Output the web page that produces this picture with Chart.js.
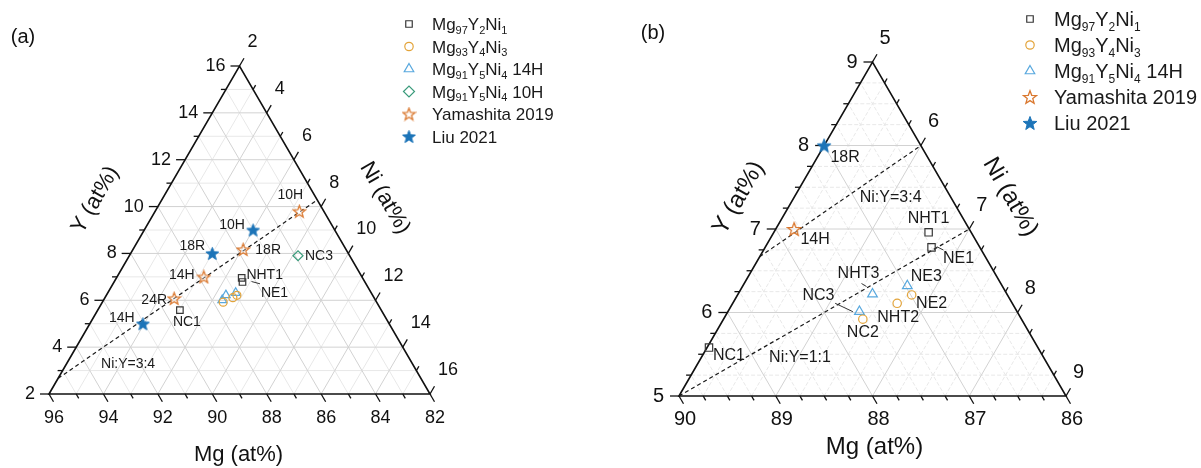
<!DOCTYPE html>
<html>
<head>
<meta charset="utf-8">
<script src="https://cdn.jsdelivr.net/npm/chart.js@4.4.1/dist/chart.umd.min.js"></script>
<style>
  html, body { margin: 0; padding: 0; background: #fff; }
  #wrap { position: relative; width: 1201px; height: 468px; overflow: hidden; }
  #wrap canvas { position: absolute; top: 0; }
</style>
</head>
<body>
<div id="wrap">
  <canvas id="ca" width="600" height="468" style="left:0"></canvas>
  <canvas id="cb" width="601" height="468" style="left:600px"></canvas>
</div>
<script>
// ---- compositions (at.%), Mg is the balance: Mg = 100 - Y - Ni ----
const mg97Names = ['NC1', 'NHT1', 'NE1'];
const mg97Y     = [5.58, 6.96, 6.78];
const mg97Ni    = [5.02, 6.60, 6.72];

const mg93Names = ['NC2', 'NHT2', 'NE2'];
const mg93Y     = [5.92, 6.11, 6.21];
const mg93Ni    = [6.44, 6.70, 6.80];

const mg91hNames = ['NC3', 'NHT3', 'NE3'];
const mg91hY     = [6.01, 6.22, 6.32];
const mg91hNi    = [6.36, 6.39, 6.70];

const mg91tNames = ['NC3'];
const mg91tY     = [7.90];
const mg91tNi    = [8.20];

const yamaNames = ['24R', '14H', '18R', '10H'];
const yamaY     = [6.08, 7.00, 8.17, 9.80];
const yamaNi    = [4.56, 5.19, 6.05, 7.30];

const liuNames = ['14H', '18R', '10H'];
const liuY     = [5.00, 8.00, 9.00];
const liuNi    = [3.95, 5.00, 6.00];

// Ni:Y guide lines
const ratioNames = ['Ni:Y=3:4', 'Ni:Y=1:1'];
const ratioNi    = [3, 1];
const ratioY     = [4, 1];

// tick labels
const mgTicksA = [96, 94, 92, 90, 88, 86, 84, 82];
const yTicksA  = [2, 4, 6, 8, 10, 12, 14, 16];
const niTicksA = [2, 4, 6, 8, 10, 12, 14, 16];
const mgTicksB = [90, 89, 88, 87, 86];
const yTicksB  = [5, 6, 7, 8, 9];
const niTicksB = [5, 6, 7, 8, 9];

const axisTitles = ['Mg (at%)', 'Y (at%)', 'Ni (at%)'];
const legendTexts = {
  mg97: 'Mg_{97}Y_{2}Ni_{1}',
  mg93: 'Mg_{93}Y_{4}Ni_{3}',
  mg91h: 'Mg_{91}Y_{5}Ni_{4} 14H',
  mg91t: 'Mg_{91}Y_{5}Ni_{4} 10H',
  yama: 'Yamashita 2019',
  liu: 'Liu 2021'
};

// ---------------------------------------------------------------
const SQ = Math.sqrt(3) / 2;
const FONT = '"Liberation Sans", Arial, Helvetica, sans-serif';

function makeStar(size, stroke, fill, lw) {
  const c = document.createElement('canvas');
  c.width = c.height = size;
  const g = c.getContext('2d');
  const R = size / 2 - lw * 0.8, r = R * 0.42;
  const cx = size / 2, cy = size / 2 + R * 0.095;
  g.beginPath();
  for (let i = 0; i < 10; i++) {
    const a = -Math.PI / 2 + i * Math.PI / 5;
    const rr = i % 2 ? r : R;
    g.lineTo(cx + rr * Math.cos(a), cy + rr * Math.sin(a));
  }
  g.closePath();
  g.fillStyle = fill; g.fill();
  g.lineWidth = lw; g.strokeStyle = stroke; g.lineJoin = 'miter'; g.stroke();
  return c;
}

const YAMA_COL = '#DA782F', LIU_COL = '#1C74B8';

const seriesDefs = {
  mg97:  { names: mg97Names,  y: mg97Y,  ni: mg97Ni,  style: 'rect',     color: '#363636' },
  mg93:  { names: mg93Names,  y: mg93Y,  ni: mg93Ni,  style: 'circle',   color: '#E3A43A' },
  mg91h: { names: mg91hNames, y: mg91hY, ni: mg91hNi, style: 'triangle', color: '#58A8DE' },
  mg91t: { names: mg91tNames, y: mg91tY, ni: mg91tNi, style: 'rectRot',  color: '#3A9B7B' },
  yama:  { names: yamaNames,  y: yamaY,  ni: yamaNi,  style: 'star',     color: YAMA_COL },
  liu:   { names: liuNames,   y: liuY,   ni: liuNi,   style: 'star',     color: LIU_COL }
};

function tern(y, ni, R) {
  const b = (y - R.y0) / R.span, c = (ni - R.ni0) / R.span;
  return { x: c + b / 2, y: b * SQ };
}
function inside(y, ni, R) {
  const b = (y - R.y0) / R.span, c = (ni - R.ni0) / R.span, e = 1e-6;
  return b >= -e && c >= -e && b + c <= 1 + e;
}
// end points of a Ni:Y = n:y line clipped to the window
function ratioSegment(n, yv, R) {
  const r = n / yv, T = R.y0 + R.ni0 + R.span, out = [];
  const cand = [[R.ni0 / r, R.ni0], [R.y0, r * R.y0], [T / (1 + r), T * r / (1 + r)]];
  cand.forEach(p => { if (inside(p[0], p[1], R)) out.push(p); });
  out.sort((a, b) => a[0] - b[0]);
  return [out[0], out[out.length - 1]];
}

function drawMarker(ctx, style, x, y, r, color, img, lw) {
  ctx.save();
  if (style === 'star') { ctx.drawImage(img, x - img.width / 2, y - img.height / 2); ctx.restore(); return; }
  ctx.strokeStyle = color; ctx.lineWidth = lw;
  ctx.beginPath();
  if (style === 'rect') {
    const s = Math.SQRT1_2 * r; ctx.rect(x - s, y - s, 2 * s, 2 * s);
  } else if (style === 'circle') {
    ctx.arc(x, y, r, 0, Math.PI * 2);
  } else if (style === 'triangle') {
    let a = 0;
    for (let i = 0; i < 3; i++) { ctx.lineTo(x + Math.sin(a) * r, y - Math.cos(a) * r); a += 2 * Math.PI / 3; }
    ctx.closePath();
  } else if (style === 'rectRot') {
    ctx.moveTo(x - r, y); ctx.lineTo(x, y - r); ctx.lineTo(x + r, y); ctx.lineTo(x, y + r); ctx.closePath();
  }
  ctx.stroke();
  ctx.restore();
}

function drawRich(ctx, text, x, y, size) {
  // text with _{...} subscripts, left aligned, vertically centred on y
  const parts = text.split(/(_\{[^}]*\})/).filter(s => s.length);
  let cx = x;
  ctx.textBaseline = 'alphabetic'; ctx.textAlign = 'left';
  const base = y + size * 0.36;
  parts.forEach(p => {
    if (p.startsWith('_{')) {
      const t = p.slice(2, -1);
      ctx.font = Math.round(size * 0.62) + 'px ' + FONT;
      ctx.fillText(t, cx, base + size * 0.22);
      cx += ctx.measureText(t).width;
    } else {
      ctx.font = size + 'px ' + FONT;
      ctx.fillText(p, cx, base);
      cx += ctx.measureText(p).width;
    }
  });
}

function makePanel(P) {
  const R = P.range;
  const T = R.y0 + R.ni0 + R.span;
  const stars = {
    yama: makeStar(P.starSize, YAMA_COL, 'rgba(255,255,255,0.35)', 1.3),
    liu: makeStar(P.starSize, LIU_COL, LIU_COL, 1.0)
  };

  const datasets = [];
  P.series.forEach(key => {
    const s = seriesDefs[key];
    const pts = [];
    s.y.forEach((yv, i) => { if (inside(yv, s.ni[i], R)) pts.push(tern(yv, s.ni[i], R)); });
    datasets.push({
      label: key, data: pts, clip: false,
      pointStyle: s.style === 'star' ? stars[key] : s.style,
      pointRadius: s.style === 'star' ? 1 : P.sizes[s.style],
      pointHoverRadius: s.style === 'star' ? 1 : P.sizes[s.style],
      pointBorderWidth: 1.2,
      pointBorderColor: s.color,
      pointBackgroundColor: 'rgba(255,255,255,0)',
      showLine: false
    });
  });
  // guide lines go last so they sit underneath the markers
  P.ratios.forEach(idx => {
    const seg = ratioSegment(ratioNi[idx], ratioY[idx], R);
    datasets.push({
      label: ratioNames[idx], data: seg.map(p => tern(p[0], p[1], R)), clip: false,
      showLine: true, pointRadius: 0, borderColor: '#1a1a1a', borderWidth: 1.2,
      borderDash: [4, 3], fill: false
    });
  });

  const plugin = {
    id: 'ternary' + P.id,
    beforeDatasetsDraw(chart) {
      const ctx = chart.ctx, sx = chart.scales.x, sy = chart.scales.y;
      const px = (yv, ni) => { const t = tern(yv, ni, R); return [sx.getPixelForValue(t.x), sy.getPixelForValue(t.y)]; };
      const n = Math.round(R.span / P.minor);
      ctx.save();
      // grid: minor first, major on top
      ['minor', 'major'].forEach(pass => {
        for (let k = 1; k < n; k++) {
          const d = k * P.minor;
          const major = Math.abs(d / P.major - Math.round(d / P.major)) < 1e-6;
          if ((pass === 'major') !== major) continue;
          ctx.strokeStyle = major ? P.gridMajor : P.gridMinor;
          ctx.setLineDash(major ? [] : P.minorDash);
          ctx.lineWidth = 1;
          const segs = [
            [px(R.y0 + d, R.ni0), px(R.y0 + d, R.ni0 + R.span - d)],   // constant Y
            [px(R.y0, R.ni0 + d), px(R.y0 + R.span - d, R.ni0 + d)],   // constant Ni
            [px(R.y0, R.ni0 + d), px(R.y0 + d, R.ni0)]                 // constant Mg
          ];
          segs.forEach(s => { ctx.beginPath(); ctx.moveTo(s[0][0], s[0][1]); ctx.lineTo(s[1][0], s[1][1]); ctx.stroke(); });
        }
      });
      ctx.setLineDash([]);
      // frame
      const A = px(R.y0, R.ni0), B = px(R.y0 + R.span, R.ni0), C = px(R.y0, R.ni0 + R.span);
      ctx.strokeStyle = '#111'; ctx.lineWidth = 1.6; ctx.lineJoin = 'miter';
      ctx.beginPath(); ctx.moveTo(A[0], A[1]); ctx.lineTo(B[0], B[1]); ctx.lineTo(C[0], C[1]); ctx.closePath(); ctx.stroke();

      // ticks
      ctx.lineWidth = 1.3;
      const tick = (p, dx, dy, len) => { ctx.beginPath(); ctx.moveTo(p[0], p[1]); ctx.lineTo(p[0] + dx * len, p[1] + dy * len); ctx.stroke(); };
      for (let k = 0; k <= n; k++) {
        const d = k * P.minor;
        const major = Math.abs(d / P.major - Math.round(d / P.major)) < 1e-6;
        const len = major ? P.majorLen : P.minorLen;
        tick(px(R.y0 + d, R.ni0), -1, 0, len);                  // Y on left edge
        tick(px(R.y0, R.ni0 + d), 0.5, SQ, len);                 // Mg on bottom edge
        tick(px(R.y0 + R.span - d, R.ni0 + d), 0.5, -SQ, len);   // Ni on right edge
      }
      ctx.restore();
    },
    afterDatasetsDraw(chart) {
      const ctx = chart.ctx, sx = chart.scales.x, sy = chart.scales.y;
      const px = (yv, ni) => { const t = tern(yv, ni, R); return [sx.getPixelForValue(t.x), sy.getPixelForValue(t.y)]; };
      ctx.save();
      ctx.fillStyle = '#111';
      ctx.font = P.tickFont + 'px ' + FONT;
      // tick labels
      ctx.textBaseline = 'middle';
      ctx.textAlign = 'right';
      P.yTicks.forEach(v => { const p = px(v, R.ni0); ctx.fillText(String(v), p[0] - P.yLabGap, p[1]); });
      ctx.textAlign = 'center';
      P.mgTicks.forEach(v => { const p = px(R.y0, 100 - v - R.y0); ctx.fillText(String(v), p[0] + P.mgLabDx, p[1] + P.mgLabDy); });
      ctx.textAlign = 'left';
      P.niTicks.forEach(v => { const p = px(T - v, v); ctx.fillText(String(v), p[0] + P.niLabDx, p[1] + P.niLabDy); });

      // axis titles
      const A = px(R.y0, R.ni0), B = px(R.y0 + R.span, R.ni0), C = px(R.y0, R.ni0 + R.span);
      ctx.font = P.titleFont + 'px ' + FONT;
      ctx.textAlign = 'center'; ctx.textBaseline = 'middle';
      ctx.fillText(axisTitles[0], (A[0] + C[0]) / 2 + P.titleOff[0][0], A[1] + P.titleOff[0][1]);
      ctx.save();
      ctx.translate((A[0] + B[0]) / 2 + P.titleOff[1][0], (A[1] + B[1]) / 2 + P.titleOff[1][1]);
      ctx.rotate(-Math.PI / 3); ctx.fillText(axisTitles[1], 0, 0); ctx.restore();
      ctx.save();
      ctx.translate((B[0] + C[0]) / 2 + P.titleOff[2][0], (B[1] + C[1]) / 2 + P.titleOff[2][1]);
      ctx.rotate(Math.PI / 3); ctx.fillText(axisTitles[2], 0, 0); ctx.restore();

      // point labels
      ctx.font = P.labelFont + 'px ' + FONT;
      ctx.fillStyle = '#1a1a1a';
      P.labels.forEach(l => {
        const s = seriesDefs[l[0]], i = l[1];
        const p = px(s.y[i], s.ni[i]);
        ctx.fillText(s.names[i], p[0] + l[2], p[1] + l[3]);
      });
      ctx.strokeStyle = '#333'; ctx.lineWidth = 1;
      P.leaders.forEach(l => {
        const s = seriesDefs[l[0]], i = l[1];
        const p = px(s.y[i], s.ni[i]);
        ctx.beginPath(); ctx.moveTo(p[0] + l[2], p[1] + l[3]); ctx.lineTo(p[0] + l[4], p[1] + l[5]); ctx.stroke();
      });
      // guide line captions
      P.ratioLabels.forEach(l => {
        const seg = ratioSegment(ratioNi[l[0]], ratioY[l[0]], R);
        const p = px(seg[0][0], seg[0][1]);
        ctx.fillText(ratioNames[l[0]], p[0] + l[1], p[1] + l[2]);
      });

      // panel letter
      ctx.font = P.letterFont + 'px ' + FONT;
      ctx.fillStyle = '#111';
      ctx.fillText(P.letter, P.letterPos[0], P.letterPos[1]);

      // legend
      P.series.forEach((key, i) => {
        const s = seriesDefs[key];
        const row = P.legend.y0 + i * P.legend.step;
        drawMarker(ctx, s.style, P.legend.mx, row, P.legendSizes[s.style], s.color,
                   s.style === 'star' ? stars[key] : null, 1.2);
        ctx.fillStyle = '#1a1a1a';
        drawRich(ctx, legendTexts[key], P.legend.tx, row, P.legendFont);
      });
      ctx.restore();
    }
  };

  return new Chart(document.getElementById(P.canvas), {
    type: 'scatter',
    data: { datasets },
    options: {
      responsive: false, animation: false, devicePixelRatio: 1,
      layout: { padding: P.padding },
      scales: {
        x: { type: 'linear', min: 0, max: 1, display: false },
        y: { type: 'linear', min: 0, max: SQ, display: false }
      },
      plugins: { legend: { display: false }, tooltip: { enabled: false } },
      events: []
    },
    plugins: [plugin]
  });
}

makePanel({
  id: 'A', canvas: 'ca', letter: '(a)', letterPos: [23, 37], letterFont: 20,
  range: { y0: 2, ni0: 2, span: 14 }, major: 2, minor: 1,
  padding: { left: 49, right: 170, top: 66, bottom: 74 },
  gridMajor: '#d2d2d2', gridMinor: '#e8e8e8', minorDash: [],
  majorLen: 9, minorLen: 5,
  yTicks: yTicksA, mgTicks: mgTicksA, niTicks: niTicksA,
  tickFont: 18, yLabGap: 14, mgLabDx: 5, mgLabDy: 24, niLabDx: 8, niLabDy: -24,
  titleFont: 22, titleOff: [[-1, 61], [-49, -30], [50, -32]],
  series: ['mg97', 'mg93', 'mg91h', 'mg91t', 'yama', 'liu'],
  sizes: { rect: 4.6, circle: 4, triangle: 5, rectRot: 5 }, starSize: 15,
  ratios: [0], ratioLabels: [[0, 70, -14]],
  labelFont: 14,
  labels: [
    ['yama', 3, -9, -16], ['liu', 2, -21, -5], ['liu', 1, -20, -7], ['yama', 2, 25, 1],
    ['mg91t', 0, 21, 0], ['yama', 1, -22, -2], ['mg97', 1, 23, -3], ['mg97', 2, 32, 11],
    ['yama', 0, -20, 2], ['mg97', 0, 7, 12], ['liu', 0, -21, -6]
  ],
  leaders: [['mg97', 2, 9, -0.5, 17.5, 1.8]],
  legend: { mx: 409, tx: 432, y0: 24, step: 22.5 }, legendFont: 17,
  legendSizes: { rect: 4.6, circle: 4.2, triangle: 5.5, rectRot: 5.5 }
});

makePanel({
  id: 'B', canvas: 'cb', letter: '(b)', letterPos: [53, 33], letterFont: 20,
  range: { y0: 5, ni0: 5, span: 4 }, major: 1, minor: 0.25,
  padding: { left: 79, right: 135, top: 62, bottom: 72 },
  gridMajor: '#d2d2d2', gridMinor: '#e8e8e8', minorDash: [4, 2],
  majorLen: 9, minorLen: 5,
  yTicks: yTicksB, mgTicks: mgTicksB, niTicks: niTicksB,
  tickFont: 20, yLabGap: 15, mgLabDx: 6, mgLabDy: 23, niLabDx: 7, niLabDy: -24,
  titleFont: 24, titleOff: [[2, 51], [-37, -31], [41, -32]],
  series: ['mg97', 'mg93', 'mg91h', 'yama', 'liu'],
  sizes: { rect: 5.2, circle: 4.2, triangle: 5.6, rectRot: 5.5 }, starSize: 16,
  ratios: [0, 1], ratioLabels: [[0, 131, -59], [1, 121, -38]],
  labelFont: 16,
  labels: [
    ['liu', 1, 21, 12], ['yama', 1, 21, 11], ['mg97', 1, 0, -14], ['mg97', 2, 27, 11],
    ['mg91h', 2, 19, -9], ['mg93', 2, 20, 9], ['mg93', 1, 1, 14], ['mg93', 0, 0, 13],
    ['mg91h', 1, -14, -21], ['mg91h', 0, -41, -16], ['mg97', 0, 20, 8]
  ],
  leaders: [['mg97', 2, 5.4, -0.6, 12, 2.7], ['mg91h', 1, -11, -10.6, -6, -7.6], ['mg91h', 0, -24.3, -8.4, -6.6, 0]],
  legend: { mx: 430, tx: 454, y0: 19, step: 26 }, legendFont: 20,
  legendSizes: { rect: 4.6, circle: 4.2, triangle: 5.5, rectRot: 5.5 }
});
</script>
</body>
</html>
